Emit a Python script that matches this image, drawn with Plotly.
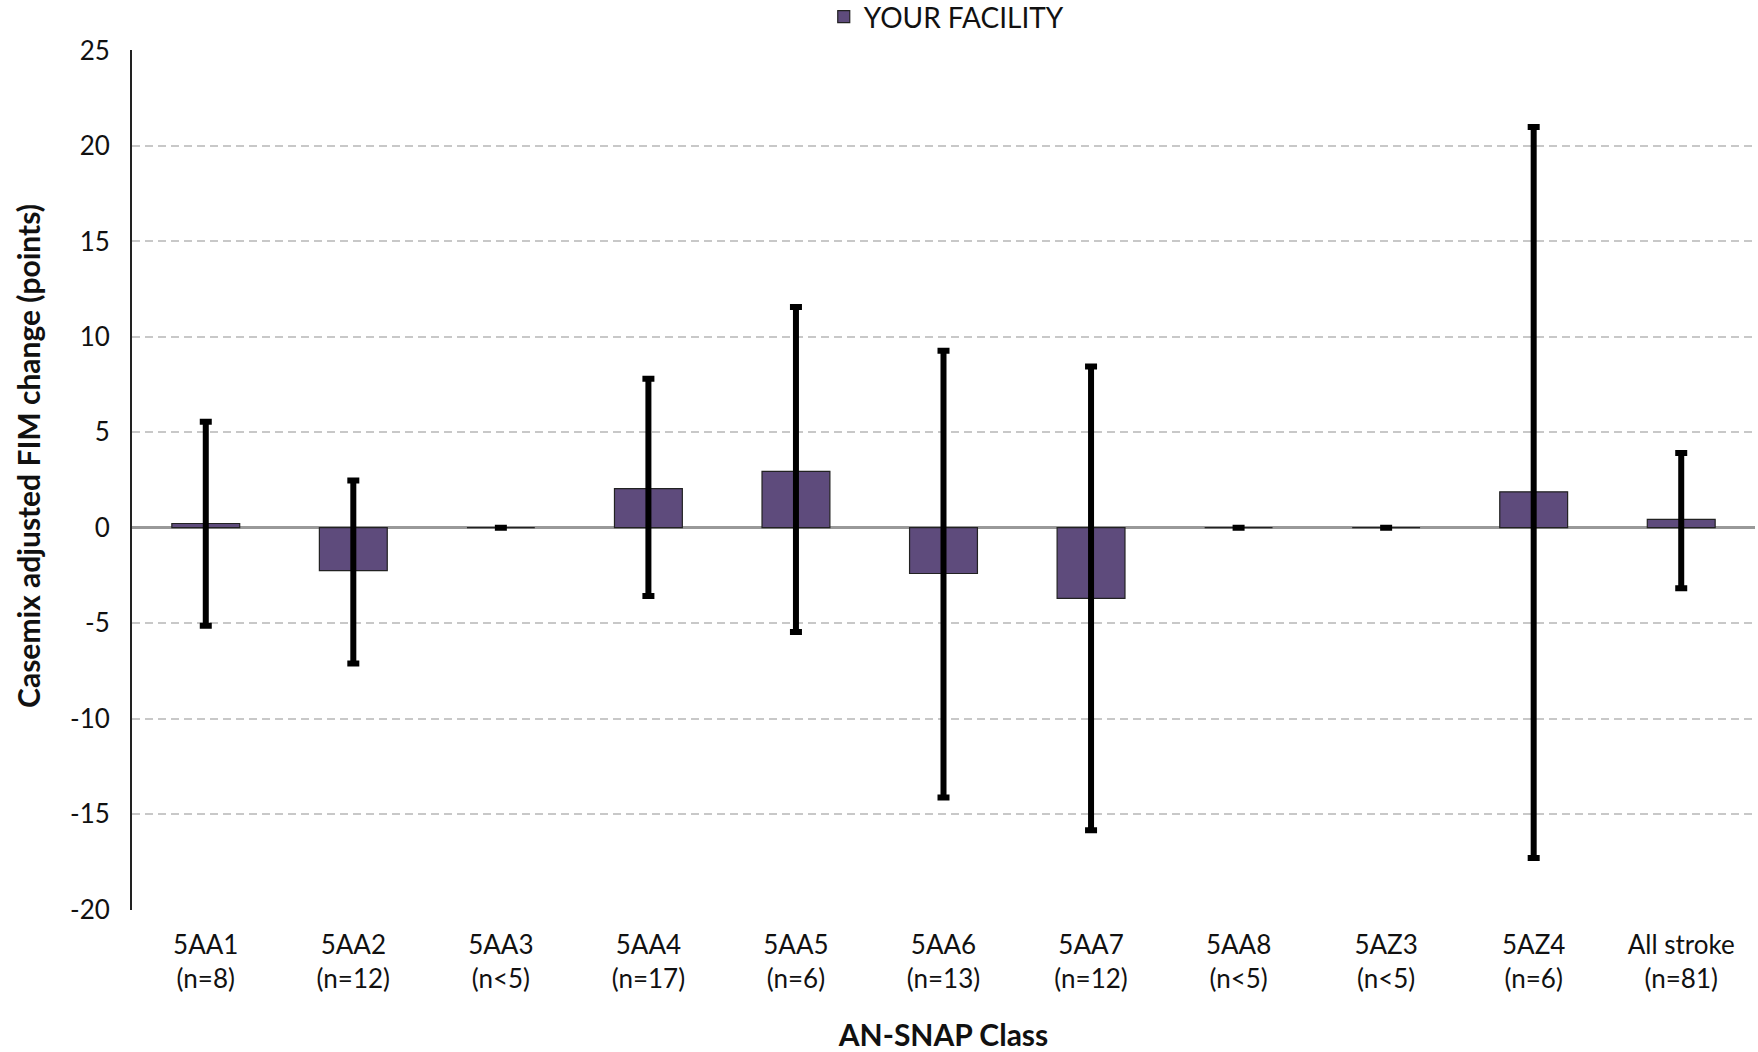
import plotly.graph_objects as go

categories = ["5AA1<br>(n=8)", "5AA2<br>(n=12)", "5AA3<br>(n&lt;5)", "5AA4<br>(n=17)",
              "5AA5<br>(n=6)", "5AA6<br>(n=13)", "5AA7<br>(n=12)", "5AA8<br>(n&lt;5)",
              "5AZ3<br>(n&lt;5)", "5AZ4<br>(n=6)", "All stroke<br>(n=81)"]
values = [0.22, -2.25, 0.0, 2.05, 2.95, -2.40, -3.70, 0.0, 0.0, 1.88, 0.44]
upper = [5.55, 2.48, 0.0, 7.8, 11.56, 9.27, 8.45, 0.0, 0.0, 21.0, 3.92]
lower = [-5.14, -7.12, 0.0, -3.58, -5.46, -14.14, -15.85, 0.0, 0.0, -17.3, -3.17]
y_ticks = [-20, -15, -10, -5, 0, 5, 10, 15, 20, 25]
y_tick_text = ["-20", "-15", "-10", "-5", "0", "5", "10", "15", "20", "25"]

err_plus = [u - v for u, v in zip(upper, values)]
err_minus = [v - l for v, l in zip(values, lower)]

FONT = "Lato"
TXT = "#111111"

fig = go.Figure()
fig.add_trace(go.Bar(
    x=categories, y=values, name="YOUR FACILITY",
    marker=dict(color="#5E4B7C", line=dict(color="#222222", width=1.2)),
    width=0.46,
    error_y=dict(type="data", symmetric=False, array=err_plus, arrayminus=err_minus,
                 color="#000000", thickness=6, width=6),
    showlegend=True,
))

fig.update_layout(
    width=1758, height=1052,
    margin=dict(l=132, r=3, t=50, b=142, autoexpand=False),
    paper_bgcolor="white", plot_bgcolor="white",
    font=dict(family=FONT, size=25, color=TXT),
    showlegend=True,
    legend=dict(orientation="h", x=0.502, xanchor="center", y=1.0384, yanchor="middle",
                font=dict(size=28, family=FONT, color=TXT),
                itemwidth=30, bgcolor="rgba(0,0,0,0)"),
    bargap=0.54,
    annotations=[dict(text="<b>Casemix adjusted FIM change (points)</b>",
                      textangle=-90, xref="paper", yref="paper",
                      x=-0.0641, y=0.528, xanchor="center", yanchor="middle",
                      showarrow=False, font=dict(size=30, family=FONT, color=TXT))],
)
fig.update_xaxes(
    title=dict(text="<b>AN-SNAP Class</b>", font=dict(size=30, family=FONT, color=TXT),
               standoff=34),
    automargin=False,
    showgrid=False, showline=False, ticks="", ticklabelstandoff=17,
    tickfont=dict(size=26, family=FONT, color=TXT),
)
fig.update_yaxes(
    range=[-20.03, 25.03], tickvals=y_ticks, ticktext=y_tick_text,
    automargin=False,
    showgrid=True, gridcolor="#c8c8c8", griddash="8px,5px", gridwidth=1.5,
    zeroline=True, zerolinecolor="#999999", zerolinewidth=2.5,
    showline=True, linecolor="#222222", linewidth=2,
    ticks="", ticklabelstandoff=15, tickfont=dict(size=26, family=FONT, color=TXT),
)

fig.write_html("out.html", config={"displayModeBar": False},
               post_script="document.body.style.margin='0px';")
